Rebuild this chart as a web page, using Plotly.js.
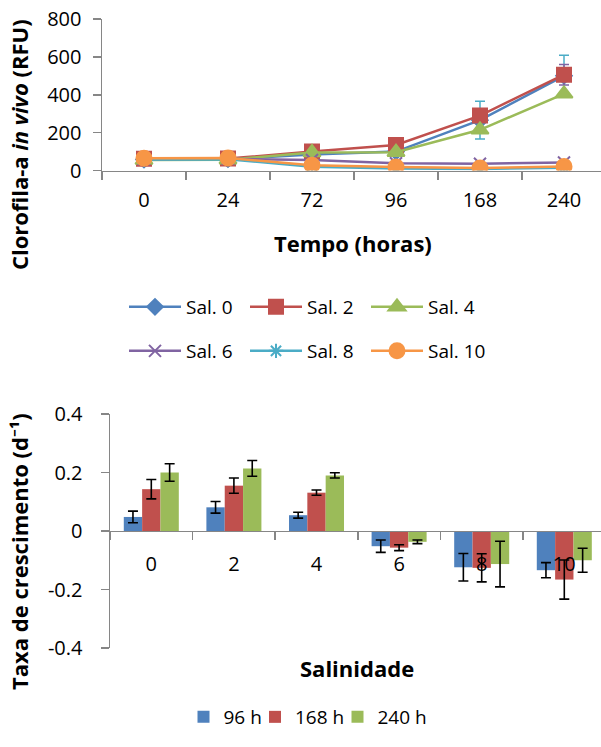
<!DOCTYPE html>
<html>
<head>
<meta charset="utf-8">
<script src="https://cdn.plot.ly/plotly-3.0.1.min.js"></script>
<style>html,body{margin:0;padding:0;background:#fff;}#chart{width:601px;height:747px;}</style>
</head>
<body>
<div id="chart"></div>
<script>
// ---- Top chart: chlorophyll-a in vivo over time ----
const tempo = ["0", "24", "72", "96", "168", "240"];
const sal0 = [58, 60, 85, 100, 266, 500];
const sal2 = [62, 63, 100, 135, 290, 506];
const sal4 = [55, 57, 95, 97, 215, 405];
const sal6 = [60, 62, 55, 38, 36, 42];
const sal8 = [58, 60, 20, 10, 8, 15];
const sal10 = [65, 66, 28, 18, 13, 21];
const sal0Err = [0, 0, 0, 0, 100, 108];
const sal2Err = [0, 0, 0, 0, 0, 54];

// ---- Bottom chart: growth rate by salinity ----
const salinidade = ["0", "2", "4", "6", "8", "10"];
const taxa96 = [0.048, 0.081, 0.054, -0.052, -0.124, -0.134];
const taxa168 = [0.143, 0.155, 0.131, -0.057, -0.126, -0.166];
const taxa240 = [0.200, 0.214, 0.190, -0.037, -0.113, -0.100];
const err96 = [0.020, 0.020, 0.010, 0.021, 0.047, 0.026];
const err168 = [0.033, 0.026, 0.009, 0.010, 0.048, 0.067];
const err240 = [0.030, 0.027, 0.009, 0.006, 0.078, 0.041];

const yTickVals = [-0.4, -0.2, 0, 0.2, 0.4];
const yTickText = ["-0.4", "-0.2", "0", "0.2", "0.4"];

const FONT = "'Open Sans', 'Noto Sans', sans-serif";
const W = 601, H = 747;
const px = v => v / W;
const py = v => 1 - v / H;

function lineTrace(name, y, color, symbol, size, legend, err, errColor) {
  const t = {
    type: "scatter", mode: "lines+markers", name: name,
    x: tempo, y: y, xaxis: "x", yaxis: "y", legend: legend,
    line: {color: color, width: 2.5},
    marker: {symbol: symbol, size: size, color: color, line: {color: color, width: 2}}
  };
  if (err) {
    t.error_y = {type: "data", array: err, visible: true, color: errColor, thickness: 1.5, width: 5};
  }
  return t;
}

const traces = [
  lineTrace("Sal. 0", sal0, "#4F81BD", "diamond", 12, "legend", sal0Err, "#4BACC6"),
  lineTrace("Sal. 2", sal2, "#C0504D", "square", 14, "legend", sal2Err, "#8064A2"),
  lineTrace("Sal. 4", sal4, "#9BBB59", "triangle-up", 15, "legend"),
  lineTrace("Sal. 6", sal6, "#8064A2", "x-thin-open", 12, "legend2"),
  lineTrace("Sal. 8", sal8, "#4BACC6", "asterisk-open", 12, "legend2"),
  lineTrace("Sal. 10", sal10, "#F79646", "circle", 15, "legend2"),
];

function barTrace(name, y, err, color, legend) {
  return {
    type: "bar", name: name, x: salinidade, y: y, xaxis: "x2", yaxis: "y2", legend: legend,
    marker: {color: color, line: {width: 0}},
    error_y: {type: "data", array: err, visible: true, color: "#000", thickness: 1.6, width: 5}
  };
}
traces.push(barTrace("96 h", taxa96, err96, "#4F81BD", "legend3"));
traces.push(barTrace("168 h", taxa168, err168, "#C0504D", "legend4"));
traces.push(barTrace("240 h", taxa240, err240, "#9BBB59", "legend5"));

const axisCommon = {
  showgrid: false, zeroline: false, showline: true, linecolor: "#868686", linewidth: 1.5,
  ticks: "outside", tickcolor: "#868686", ticklen: 8, tickwidth: 1.5,
  tickfont: {family: FONT, size: 20, color: "#000"}, fixedrange: true
};

const legendFont = {family: FONT, size: 19, color: "#000"};
function barLegend(xPix) {
  return {
    orientation: "h", x: px(xPix), y: py(717), xanchor: "left", yanchor: "middle",
    itemwidth: 30, font: legendFont, bgcolor: "rgba(0,0,0,0)"
  };
}

const layout = {
  width: W, height: H,
  margin: {l: 0, r: 0, t: 0, b: 0},
  paper_bgcolor: "#fff", plot_bgcolor: "rgba(0,0,0,0)",
  font: {family: FONT, color: "#000"},
  showlegend: true,
  barmode: "group", bargap: 0.334, bargroupgap: 0,
  xaxis: Object.assign({}, axisCommon, {
    type: "category", domain: [px(102), 1], anchor: "y",
    range: [-0.5, -0.5 + 499 / 84], tickson: "boundaries", ticklabelstandoff: 11
  }),
  yaxis: Object.assign({}, axisCommon, {
    domain: [py(170.5), py(19)], anchor: "x", range: [0, 800], dtick: 200,
    ticklabelstandoff: 7
  }),
  xaxis2: Object.assign({}, axisCommon, {
    type: "category", domain: [px(110), 1], anchor: "free", position: py(530.7),
    range: [-0.5, -0.5 + 491 / 82.6], tickson: "boundaries", ticklabelstandoff: 15
  }),
  yaxis2: Object.assign({}, axisCommon, {
    domain: [py(648), py(414)], anchor: "x2", range: [-0.4, 0.4],
    tickvals: yTickVals, ticktext: yTickText, ticklabelstandoff: 14
  }),
  legend: {
    orientation: "h", x: px(124), y: py(307), xanchor: "left", yanchor: "middle",
    entrywidth: 54, entrywidthmode: "pixels", itemwidth: 52,
    font: legendFont, bgcolor: "rgba(0,0,0,0)"
  },
  legend2: {
    orientation: "h", x: px(124), y: py(351), xanchor: "left", yanchor: "middle",
    entrywidth: 54, entrywidthmode: "pixels", itemwidth: 52,
    font: legendFont, bgcolor: "rgba(0,0,0,0)"
  },
  legend3: barLegend(183.5),
  legend4: barLegend(255),
  legend5: barLegend(337.5),
  annotations: [
    {text: "<b>Tempo (horas)</b>", xref: "paper", yref: "paper", x: px(353), y: py(243),
     xanchor: "center", yanchor: "middle",
     showarrow: false, font: {family: FONT, size: 22, color: "#000"}},
    {text: "<b>Salinidade</b>", xref: "paper", yref: "paper", x: px(357), y: py(668),
     xanchor: "center", yanchor: "middle",
     showarrow: false, font: {family: FONT, size: 22, color: "#000"}},
    {text: "<b>Clorofila-a <i>in vivo</i> (RFU)</b>", xref: "paper", yref: "paper", x: px(19), y: py(145),
     xanchor: "center", yanchor: "middle",
     textangle: -90, showarrow: false, font: {family: FONT, size: 22, color: "#000"}},
    {text: "<b>Taxa de crescimento (d⁻¹)</b>", xref: "paper", yref: "paper", x: px(19), y: py(552),
     xanchor: "center", yanchor: "middle",
     textangle: -90, showarrow: false, font: {family: FONT, size: 22, color: "#000"}}
  ]
};

Plotly.newPlot("chart", traces, layout, {staticPlot: true, displayModeBar: false});
</script>
</body>
</html>
